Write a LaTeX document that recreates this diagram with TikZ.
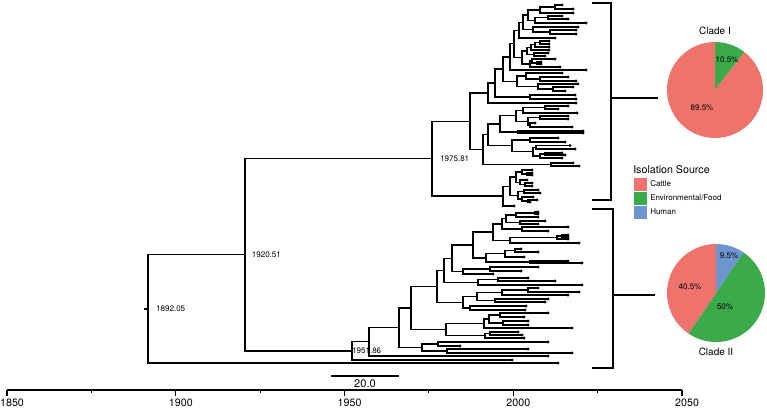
\documentclass[tikz,border=0pt]{standalone}
\usepackage{fontspec}
\setmainfont{TeX Gyre Heros}
\usetikzlibrary{calc,positioning}
\definecolor{cattle}{HTML}{EE736D}
\definecolor{envfood}{HTML}{3BAA4A}
\definecolor{human}{HTML}{6F95D0}
\tikzset{
  branch/.style={line width=0.95pt, line join=miter},
  tipdot/.style={fill=black},
  nodelabel/.style={font=\fontsize{6}{7}\selectfont, inner sep=0pt, anchor=west},
  axisline/.style={line width=0.8pt},
  ticklabel/.style={font=\fontsize{8}{9}\selectfont, inner sep=1.5pt, anchor=north, xshift=3.8pt},
  bracket/.style={line width=0.8pt},
  cladetitle/.style={font=\fontsize{7.5}{9}\selectfont, inner sep=0pt},
  pielabel/.style={font=\fontsize{6}{7}\selectfont, inner sep=0pt},
  legtext/.style={font=\fontsize{6}{7}\selectfont, inner sep=0pt, anchor=west},
}
% one internal node: name, x, upper child, lower child
\newcommand{\clade}[4]{%
  \coordinate (#1m) at ($(#3)!0.5!(#4)$);
  \coordinate (#1x) at (#2,0);
  \coordinate (#1) at (#1x |- #1m);
  \draw[branch] (#3) -- (#1 |- #3) -- (#1 |- #4) -- (#4);
}

\begin{document}
\begin{tikzpicture}[x=0.75pt, y=-0.75pt]
  \useasboundingbox (0,0) rectangle (767,407);

  % tips
  \foreach \tp/\tx/\ty in {
    a1/562/5, a2/573/9, a3/573/13, a4/562/16, a5/568/19, a6/586/23,
    a7/578/27, a8/576/30, a9/576/34, a10/555/38, a11/549/41, a12/549/44,
    a13/549/47, a14/549/50, a15/548/53, a16/545/56, a17/555/59, a18/541/62,
    a19/541/64, a20/560/67, a21/586/70, a22/562/73, a23/568/77, a24/576/81,
    a25/578/84, a26/573/87, a27/565/91, a28/575/95, a29/576/99, a30/576/103,
    a31/568/106, a32/558/109, a33/577/113, a34/568/116, a35/568/119, a36/535/123,
    a37/572/127, a38/583/131, a39/583/133, a40/558/138, a41/565/142, a42/570/145.5,
    a43/575/149, a44/562/153, a45/565/155, a46/562/158, a47/573/163, a48/579/166,
    a49/532/170, a50/532/173, a51/532/175, a52/527/180, a53/532/183, a54/532/186,
    a55/538/190, a56/540/193, a57/533/197, a58/537/200, a59/530/202, a60/514/206,
    b1/538/212, b2/538/214, b3/538/217, b4/545/221, b5/538/224, b6/568/227,
    b7/548/231, b8/568/235, b9/568/237, b10/568/239, b11/579/243, b12/521/249,
    b13/538/252, b14/524/257, b15/568/261, b16/582/263, b17/538/267, b18/521/271,
    b19/493/274, b20/528/278, b21/555/281, b22/582/285, b23/538/288, b24/579/292,
    b25/568/295, b26/548/299, b27/545/302, b28/526/306, b29/525/310, b30/548/313,
    b31/524/317, b32/528/321, b33/528/325, b34/572/328, b35/518/332, b36/522/335,
    b37/524/338, b38/548/342, b39/460/346, b40/528/349, b41/572/353, b42/548/356,
    b43/512/360, lone/558/363}
  {
    \coordinate (\tp) at (\tx,\ty);
    \fill[tipdot] (\tp) circle[radius=1.2pt];
  }

  % internal nodes, children first
  \foreach \cl/\cx/\ca/\cb in {
    c12/555/a1/a2, t123/540/c12/a3, c45/548/a4/a5, t456/535/c45/a6,
    T7/528/t123/t456, c89/550/a8/a9, t789/533/a7/c89, T6/523/T7/t789,
    T5/519/T6/a10, m1a3/540/a11/a12, m1a2/535/m1a3/a13, m1a1/531/m1a2/a14,
    m1c/534/a15/a16, m1a/527/m1a1/m1c, c1819/537/a18/a19, m1b/532/a17/c1819,
    m1d/530/m1b/a20, M1/522/m1a/m1d, T4/514/T5/M1, T3/510/T4/a21,
    g2a1/540/a23/a24, g2a/526/a22/g2a1, g2b1/553/a26/a27, g2b/538/a25/g2b1,
    G2/517/g2a/g2b, T2/503/T3/G2, c2829/530/a28/a29, T1/495/T2/c2829,
    T/488/T1/a30,
    c3132/545/a31/a32, Mb2/523/c3132/a33, c3435/540/a34/a35, c3637/530/a36/a37,
    Mb3/528/c3435/c3637, Mb1/516/Mb2/Mb3, c3839/518/a38/a39, Mb/500/Mb1/c3839,
    c4041/530/a40/a41, c4445/545/a44/a45, Mc2/540/c4445/a46, Mc3/536/a42/a43,
    Mc1/533/Mc3/Mc2, Mc/512/c4041/Mc1, Ma/488/Mb/Mc, c4748/551/a47/a48,
    M/483/Ma/c4748, A1/470/T/M,
    c5051/527/a50/a51, B2a/522/a49/c5051, c5354/525/a53/a54, B2b/520/a52/c5354,
    B2/516/B2a/B2b, B3a/524/a55/a56, c5859/528/a58/a59, B3b/522/a57/c5859,
    B3/518/B3a/B3b, B1/510/B2/B3, Bt/503/B1/a60,
    n1975/432/A1/Bt,
    e0102/535/b1/b2, u1c/516/e0102/b3, e0405/520/b4/b5, u1a/506/u1c/e0405,
    e0607/522/b6/b7, u1/502/u1a/e0607, e0809/562/b8/b9, u2a/557/e0809/b10,
    u2/510/u2a/b11, u3/493/u1/u2, e1213/515/b12/b13, u4a/505/e1213/b14,
    e1516/530/b15/b16, u4/486/u4a/e1516, u5/473/u3/u4, e1718/490/b17/b18,
    u6/463/e1718/b19, u7/452/u5/u6, e2021/498/b20/b21, u8/478/e2021/b22,
    u9/444/u7/u8, e2324/528/b23/b24, u10a/502/e2324/b25, e2627/495/b26/b27,
    u10/477/u10a/e2627, e2829/470/b28/b29, u11/463/u10/e2829, u12/437/u9/u11,
    e3031/500/b30/b31, e3233/503/b32/b33, u13a/489/e3031/e3233, u13/484/u13a/b34,
    e3536/490/b35/b36, u14/485/e3536/b37, u15/446/u13/u14, u16/411/u12/u15,
    e3839/438/b38/b39, e4041/447/b40/b41, u17/422/e3839/e4041, u18/399/u16/u17,
    u19/369/u18/b42, n1951/352/u19/b43,
    n1920/245/n1975/n1951, n1892/148/n1920/lone}
  {\clade{\cl}{\cx}{\ca}{\cb}}

  \coordinate (stub) at ($(n1892)+(-4,0)$);
  \draw[branch] (stub) -- (n1892);

  % node ages
  \node[nodelabel, right=6pt of n1975] (lab1975) {1975.81};
  \node[nodelabel, right=5pt of n1920] (lab1920) {1920.51};
  \node[nodelabel, right=6pt of n1892] (lab1892) {1892.05};
  \node[nodelabel, right=0pt of n1951] (lab1951) {1951.86};

  % time axis
  \coordinate (axl) at (7,390);
  \coordinate (axr) at (682,390);
  \draw[axisline] (axl) -- (axr);
  \foreach \yr in {1850,1900,...,2050}
    \draw[axisline] ({7+(\yr-1850)*3.375},390) -- ++(0,6)
      node[ticklabel] (yr\yr) {\yr};
  \foreach \yr in {1875,1925,...,2025}
    \draw[axisline] ({7+(\yr-1850)*3.375},390) -- ++(0,3);

  % scale bar
  \coordinate (sbl) at (331,376);
  \coordinate (sbr) at (399,376);
  \draw[axisline] (sbl) -- (sbr)
    node[midway, below=2.5pt, inner sep=0pt, font=\fontsize{8.3}{9}\selectfont] (sblab) {20.0};

  % clade brackets
  \draw[bracket] (592,3) -- (611,3) -- (611,200) -- (592,200);
  \draw[bracket] (611,98) -- (658,98);
  \draw[bracket] (592,209) -- (613,209) -- (613,368) -- (592,368);
  \draw[bracket] (613,295) -- (655,295);

  % pie charts
  \begin{scope}[shift={(715,90)}, yscale=-1]
    \coordinate (pieI) at (0,0);
    \fill[envfood] (pieI) -- (90:48) arc[start angle=90, end angle=52.2, radius=48] -- cycle;
    \fill[cattle] (pieI) -- (52.2:48) arc[start angle=52.2, end angle=-270, radius=48] -- cycle;
    \node[pielabel] (pIenv) at (12,30) {10.5\%};
    \node[pielabel] (pIcat) at (-13,-18) {89.5\%};
  \end{scope}
  \node[cladetitle] (titleI) at (715,31) {Clade I};

  \begin{scope}[shift={(716,293)}, yscale=-1]
    \coordinate (pieII) at (0,0);
    \fill[human] (pieII) -- (90:49) arc[start angle=90, end angle=55.8, radius=49] -- cycle;
    \fill[envfood] (pieII) -- (55.8:49) arc[start angle=55.8, end angle=-124.2, radius=49] -- cycle;
    \fill[cattle] (pieII) -- (-124.2:49) arc[start angle=-124.2, end angle=-270, radius=49] -- cycle;
    \node[pielabel] (pIIhum) at (13,37) {9.5\%};
    \node[pielabel] (pIIcat) at (-26,6) {40.5\%};
    \node[pielabel] (pIIenv) at (9,-14) {50\%};
  \end{scope}
  \node[cladetitle] (titleII) at (716,352) {Clade II};

  % legend
  \node[anchor=west, inner sep=0pt, font=\fontsize{8}{9}\selectfont] (legtitle) at (633,170) {Isolation Source};
  \foreach \col/\lab/\yy in {cattle/Cattle/184, envfood/{Environmental/Food}/198, human/Human/212}
  {
    \fill[\col] (634,{\yy-6.5}) rectangle ++(13,13);
    \node[legtext] (leg\col) at (650,\yy) {\lab};
  }
\end{tikzpicture}
\end{document}
